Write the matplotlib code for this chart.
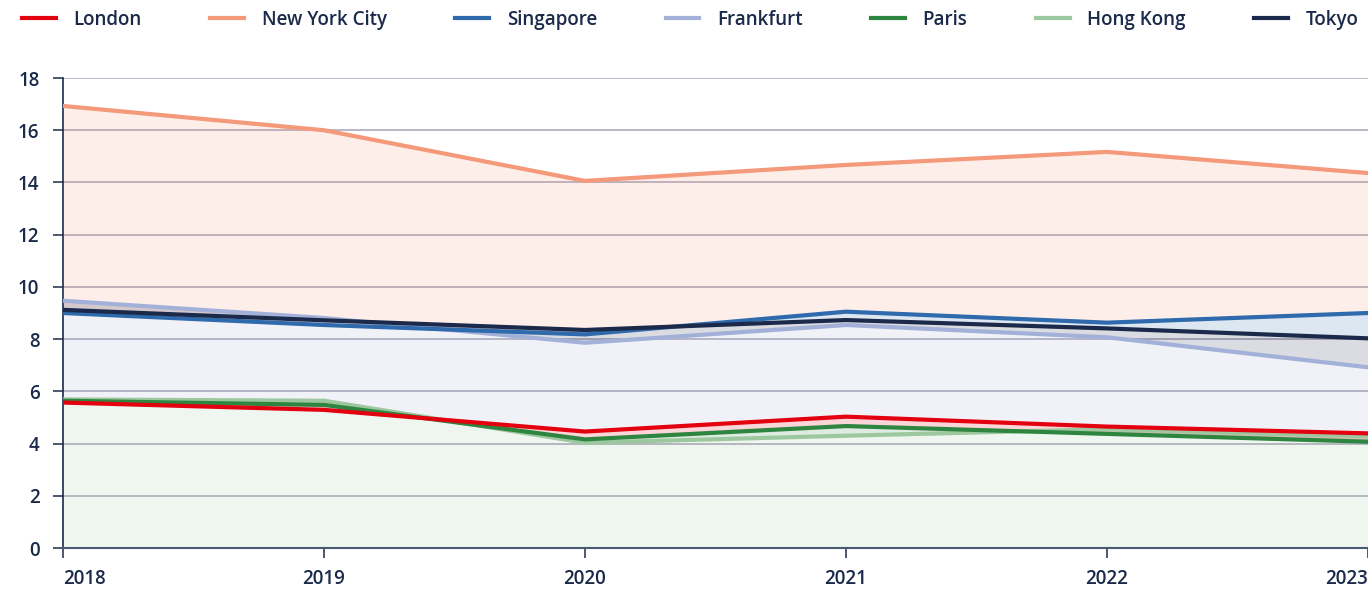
import matplotlib
matplotlib.use("Agg")
import matplotlib.pyplot as plt
import numpy as np

years = [2018, 2019, 2020, 2021, 2022, 2023]
london = [5.57, 5.29, 4.46, 5.03, 4.65, 4.39]
new_york = [16.93, 16.0, 14.06, 14.67, 15.17, 14.36]
singapore = [9.0, 8.54, 8.18, 9.05, 8.63, 9.0]
frankfurt = [9.47, 8.81, 7.86, 8.54, 8.07, 6.92]
paris = [5.64, 5.48, 4.16, 4.67, 4.37, 4.07]
hong_kong = [5.69, 5.64, 4.03, 4.30, 4.55, 4.28]
tokyo = [9.12, 8.72, 8.35, 8.73, 8.41, 8.03]

legend_order = ["London", "New York City", "Singapore", "Frankfurt", "Paris", "Hong Kong", "Tokyo"]
series = {
    "London": london, "New York City": new_york, "Singapore": singapore,
    "Frankfurt": frankfurt, "Paris": paris, "Hong Kong": hong_kong, "Tokyo": tokyo,
}
colors = {
    "London": "#E3000F", "New York City": "#F4997A", "Singapore": "#2E6AAC",
    "Frankfurt": "#A3B1D9", "Paris": "#2E8540", "Hong Kong": "#9DC89F", "Tokyo": "#1B2A4A",
}
# stacking order of fills (each fills to the previous one)
fill_order = ["Hong Kong", "Paris", "London", "Frankfurt", "Tokyo", "Singapore", "New York City"]
draw_z = {"Hong Kong": 3, "Paris": 4, "London": 5, "Frankfurt": 6, "Singapore": 7, "Tokyo": 8, "New York City": 9}

plt.rcParams['font.family'] = ['Open Sans', 'DejaVu Sans']
text_color = "#1B2A4A"
fs = 13.5

fig = plt.figure(figsize=(13.68, 5.91), dpi=100)
ax = fig.add_axes([63/1368, (591-548)/591, 1 - 63/1368, (548-78)/591])

x = np.array(years, dtype=float)
prev = np.zeros(len(years))
for name in fill_order:
    y = np.array(series[name], dtype=float)
    ax.fill_between(x, prev, y, color=colors[name], alpha=0.16, linewidth=0, zorder=1)
    prev = y

handles = {}
for name in legend_order:
    ln, = ax.plot(x, series[name], color=colors[name], lw=3.0, zorder=draw_z[name],
                  solid_joinstyle='miter', label=name)
    handles[name] = ln

ax.set_xlim(2018, 2023)
ax.set_ylim(0, 18)
ax.set_yticks(range(0, 19, 2))
ax.set_xticks(years)
ax.grid(axis='y', color='#A5A2B5', lw=1.1, zorder=0)
ax.set_axisbelow(True)
for s in ['top', 'right']:
    ax.spines[s].set_visible(False)
ax.spines['left'].set_color(text_color)
ax.spines['left'].set_linewidth(1.2)
ax.spines['bottom'].set_color('#4A5A75')
ax.spines['bottom'].set_linewidth(1.5)
ax.tick_params(axis='y', length=7, width=1.1, color=text_color, pad=10, labelsize=fs, labelcolor=text_color)
ax.tick_params(axis='x', length=7, width=1.1, color=text_color, pad=8, labelsize=fs, labelcolor=text_color)
for lab in ax.get_xticklabels() + ax.get_yticklabels():
    lab.set_fontweight('semibold')
xlabs = ax.get_xticklabels()
xlabs[0].set_horizontalalignment('left')
xlabs[-1].set_horizontalalignment('right')

leg = fig.legend([handles[n] for n in legend_order], legend_order, loc='center left',
                 bbox_to_anchor=(22/1368, 1 - 20/591), ncol=7, frameon=False,
                 prop={'size': fs, 'weight': 'semibold'}, handlelength=1.8,
                 handletextpad=0.95, columnspacing=3.65, borderpad=0, borderaxespad=0)
for t in leg.get_texts():
    t.set_color(text_color)

fig.savefig("out.png", dpi=100)
